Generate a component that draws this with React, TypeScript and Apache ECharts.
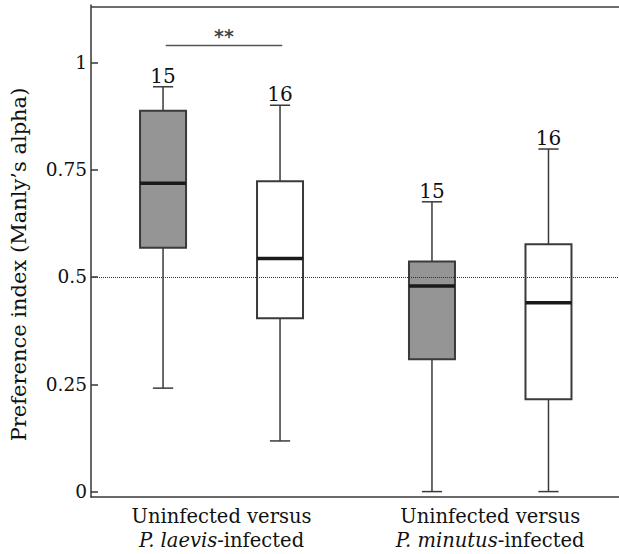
import React, { useEffect, useRef } from "react";
import * as echarts from "echarts";

// ---- data ----
const boxPositions = [0.614, 1.611, 2.906, 3.899];
const whiskerLow = [0.241, 0.118, 0.0, 0.0];
const quartile1 = [0.568, 0.404, 0.308, 0.215];
const medians = [0.718, 0.543, 0.479, 0.44];
const quartile3 = [0.887, 0.723, 0.536, 0.576];
const whiskerHigh = [0.943, 0.9, 0.675, 0.798];
const sampleSizes = [15, 16, 15, 16];
const boxFills = ["#959595", "#ffffff", "#959595", "#ffffff"];

const groupCenters = [1.1125, 3.4025];
const groupLine1 = ["Uninfected versus", "Uninfected versus"];
const groupSpecies = ["P. laevis", "P. minutus"];
const groupSuffix = ["-infected", "-infected"];

const yTicks = [0, 0.25, 0.5, 0.75, 1];
const referenceLevel = 0.5;
const sigBarX = [0.637, 1.63];
const sigBarY = 1.039;
const sigLabelX = 1.133;
const sigLabelY = 1.062;
const sigLabel = "**";

const X_MIN = 0;
const X_MAX = 4.5;
const Y_MIN = -0.0126;
const Y_MAX = 1.1335;
const BOX_WIDTH = 0.392;

const FONT = "'DejaVu Serif', 'Liberation Serif', serif";
const INK = "#111111";
const STROKE = "#3a3a3a";
const AXIS_BOTTOM = "#383838";
const AXIS_LEFT = "#363636";
const FRAME_TOP = "#3c3c3c";

export default function App() {
  const ref = useRef<HTMLDivElement>(null);

  useEffect(() => {
    if (!ref.current) return;
    const chart = echarts.init(ref.current, undefined, { renderer: "svg" });

    const boxData = boxPositions.map((x, i) => [
      x,
      whiskerLow[i],
      quartile1[i],
      medians[i],
      quartile3[i],
      whiskerHigh[i],
      sampleSizes[i],
    ]);

    const option: any = {
      animation: false,
      backgroundColor: "#ffffff",
      grid: { left: 91, right: 0, top: 5, bottom: 57, show: false },
      xAxis: {
        type: "value",
        min: X_MIN,
        max: X_MAX,
        splitLine: { show: false },
        axisLine: { show: true, onZero: false, lineStyle: { color: AXIS_BOTTOM, width: 1.5 } },
        axisTick: { show: false },
        axisLabel: {
          show: true,
          customValues: groupCenters,
          margin: 7,
          formatter: (v: number) => {
            let idx = 0;
            let best = Infinity;
            groupCenters.forEach((c, i) => {
              const d = Math.abs(c - v);
              if (d < best) {
                best = d;
                idx = i;
              }
            });
            return `{n|${groupLine1[idx]}}\n{i|${groupSpecies[idx]}}{n|${groupSuffix[idx]}}`;
          },
          rich: {
            n: { fontFamily: FONT, fontSize: 19.5, color: INK, lineHeight: 24 },
            i: { fontFamily: FONT, fontSize: 19.5, color: INK, lineHeight: 24, fontStyle: "italic" },
          },
        },
      },
      yAxis: {
        type: "value",
        min: Y_MIN,
        max: Y_MAX,
        name: "Preference index (Manly\u2019s alpha)",
        nameLocation: "middle",
        nameRotate: 90,
        nameGap: 62,
        nameTextStyle: {
          fontFamily: FONT,
          fontSize: 21,
          color: INK,
          padding: [0, 27, 0, 0],
        },
        splitLine: { show: false },
        axisLine: { show: true, onZero: false, lineStyle: { color: AXIS_LEFT, width: 1.5 } },
        axisTick: {
          show: true,
          inside: true,
          length: 7,
          customValues: yTicks,
          lineStyle: { color: AXIS_LEFT, width: 1.5 },
        },
        axisLabel: {
          show: true,
          customValues: yTicks,
          margin: 4,
          fontFamily: FONT,
          fontSize: 18.5,
          color: INK,
          formatter: (v: number) => String(v),
        },
      },
      series: [
        {
          type: "custom",
          data: boxData,
          encode: { x: 0, y: [1, 2, 3, 4, 5] },
          z: 2,
          renderItem: (params: any, api: any) => {
            const x = api.value(0);
            const pLo = api.coord([x, api.value(1)]);
            const pQ1 = api.coord([x, api.value(2)]);
            const pMed = api.coord([x, api.value(3)]);
            const pQ3 = api.coord([x, api.value(4)]);
            const pHi = api.coord([x, api.value(5)]);
            const half = api.size([BOX_WIDTH, 0])[0] / 2;
            const cap = half * 0.44;
            const cx = pMed[0];
            const lw = 1.5;
            return {
              type: "group",
              children: [
                {
                  type: "line",
                  shape: { x1: cx, y1: pQ3[1], x2: cx, y2: pHi[1] },
                  style: { stroke: STROKE, lineWidth: lw },
                },
                {
                  type: "line",
                  shape: { x1: cx - cap, y1: pHi[1], x2: cx + cap, y2: pHi[1] },
                  style: { stroke: STROKE, lineWidth: lw },
                },
                {
                  type: "line",
                  shape: { x1: cx, y1: pQ1[1], x2: cx, y2: pLo[1] },
                  style: { stroke: STROKE, lineWidth: lw },
                },
                {
                  type: "line",
                  shape: { x1: cx - cap, y1: pLo[1], x2: cx + cap, y2: pLo[1] },
                  style: { stroke: STROKE, lineWidth: lw },
                },
                {
                  type: "rect",
                  shape: { x: cx - half, y: pQ3[1], width: half * 2, height: pQ1[1] - pQ3[1] },
                  style: { fill: boxFills[params.dataIndex], stroke: STROKE, lineWidth: 2 },
                },
                {
                  type: "line",
                  shape: { x1: cx - half, y1: pMed[1], x2: cx + half, y2: pMed[1] },
                  style: { stroke: "#1a1a1a", lineWidth: 3.5 },
                },
                {
                  type: "text",
                  x: cx,
                  y: pHi[1] - 1,
                  style: {
                    text: String(api.value(6)),
                    align: "center",
                    verticalAlign: "bottom",
                    fontFamily: FONT,
                    fontSize: 20,
                    fill: INK,
                  },
                },
              ],
            };
          },
        },
        {
          type: "line",
          data: [
            [sigBarX[0], sigBarY],
            [sigBarX[1], sigBarY],
          ],
          symbol: "none",
          silent: true,
          z: 3,
          lineStyle: { color: "#555555", width: 1.5 },
          markLine: {
            silent: true,
            symbol: ["none", "none"],
            label: { show: false },
            data: [
              { yAxis: referenceLevel, lineStyle: { type: "dotted", color: "#333333", width: 1 } },
              { yAxis: Y_MAX, lineStyle: { type: "solid", color: FRAME_TOP, width: 1.5 } },
            ],
            z: 5,
          },
        },
        {
          type: "scatter",
          data: [[sigLabelX, sigLabelY]],
          symbolSize: 0,
          silent: true,
          label: {
            show: true,
            position: "inside",
            formatter: sigLabel,
            fontFamily: "'DejaVu Sans', sans-serif",
            fontSize: 19,
            fontWeight: "bold",
            color: INK,
          },
        },
      ],
    };

    chart.setOption(option);
    return () => {
      chart.dispose();
    };
  }, []);

  return (
    <div
      ref={ref}
      style={{ position: "absolute", left: 0, top: 0, width: 619, height: 554 }}
    />
  );
}
